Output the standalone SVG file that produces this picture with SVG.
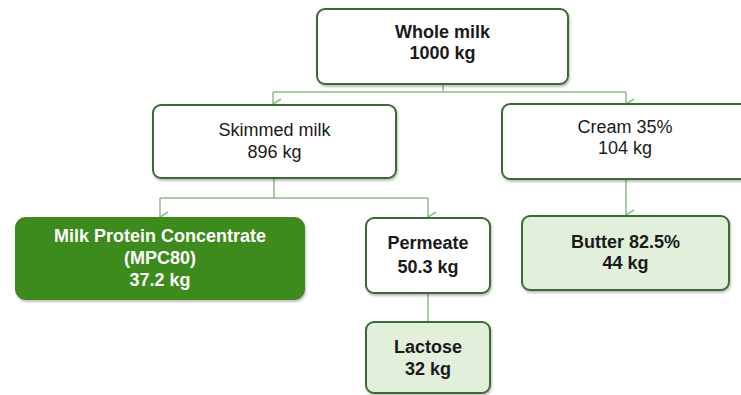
<svg xmlns="http://www.w3.org/2000/svg" width="741" height="395" viewBox="0 0 741 395">
<defs>
<style>
.box{fill:#ffffff;stroke:#3a6b35;stroke-width:2;filter:url(#sh)}
.light{fill:#e2efda}
.dark{fill:#3d8b1f}
.conn{fill:none;stroke:#8dbb8a;stroke-width:1.5}
text{font-family:"Liberation Sans",Arial,sans-serif;font-size:18px;text-anchor:middle;fill:#1a1a1a}
.b{font-weight:bold}
.w{fill:#ffffff}
</style>
<filter id="sh" x="-5%" y="-5%" width="110%" height="120%">
<feDropShadow dx="1" dy="2" stdDeviation="1.2" flood-color="#000" flood-opacity="0.25"/>
</filter>
<marker id="ah" markerUnits="userSpaceOnUse" markerWidth="12" markerHeight="10" refX="6" refY="9" orient="auto-start-reverse" viewBox="0 0 12 10">
<path d="M1,1 L6,9 L11,1" fill="none" stroke="#8dbb8a" stroke-width="1.5"/>
</marker>
</defs>
<g id="connectors">
<path class="conn" d="M443,84 V92 M273,92 H626"/>
<path class="conn" d="M273,92 V104" marker-end="url(#ah)"/>
<path class="conn" d="M626,92 V104" marker-end="url(#ah)"/>
<path class="conn" d="M274,178 V198 M160,198 H428"/>
<path class="conn" d="M160,198 V217" marker-end="url(#ah)"/>
<path class="conn" d="M428,198 V217" marker-end="url(#ah)"/>
<path class="conn" d="M626,179 V215" marker-end="url(#ah)"/>
<path class="conn" d="M428,293 V322"/>
</g>
<g id="whole-milk">
<rect class="box" x="317" y="9" width="251" height="75" rx="8"/>
<text class="b" x="442.5" y="38">Whole milk</text>
<text class="b" x="442.5" y="59">1000 kg</text>
</g>
<g id="skimmed-milk">
<rect class="box" x="153" y="105" width="243" height="73" rx="8"/>
<text x="274.5" y="136">Skimmed milk</text>
<text x="274.5" y="158">896 kg</text>
</g>
<g id="cream">
<rect class="box" x="502" y="104" width="250" height="75" rx="8"/>
<text x="625" y="133">Cream 35%</text>
<text x="625" y="154">104 kg</text>
</g>
<g id="mpc">
<rect class="box dark" x="16" y="218" width="288" height="81" rx="10" style="stroke:#3d8b1f"/>
<text class="b w" x="160" y="242">Milk Protein Concentrate</text>
<text class="b w" x="160" y="264">(MPC80)</text>
<text class="b w" x="160" y="286">37.2 kg</text>
</g>
<g id="permeate">
<rect class="box" x="366" y="218" width="124" height="75" rx="8"/>
<text class="b" x="428" y="249">Permeate</text>
<text class="b" x="428" y="273">50.3 kg</text>
</g>
<g id="butter">
<rect class="box light" x="522" y="216" width="207" height="74" rx="8"/>
<text class="b" x="625.5" y="248">Butter 82.5%</text>
<text class="b" x="625.5" y="269">44 kg</text>
</g>
<g id="lactose">
<rect class="box light" x="366" y="322" width="124" height="71" rx="8"/>
<text class="b" x="428" y="353">Lactose</text>
<text class="b" x="428" y="375">32 kg</text>
</g>
</svg>
